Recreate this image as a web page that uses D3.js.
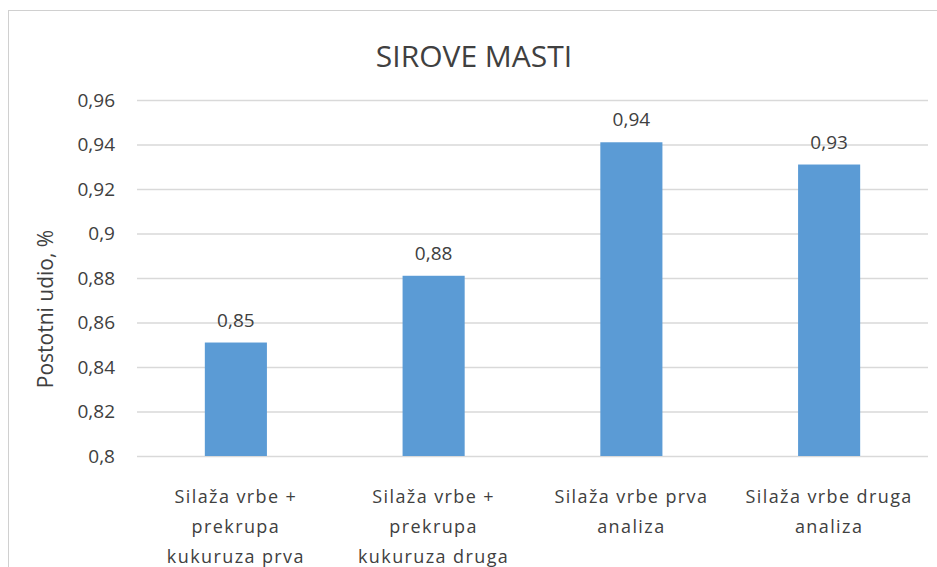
<!DOCTYPE html>
<html>
<head>
<meta charset="utf-8">
<script src="https://cdn.jsdelivr.net/npm/d3@7"></script>
<style>
  body { margin: 0; background: #fff; }
  text { font-family: "Open Sans", sans-serif; fill: #404040; }
</style>
</head>
<body>
<svg></svg>
<script>
var categories = [
  "Silaža vrbe + prekrupa kukuruza prva analiza",
  "Silaža vrbe + prekrupa kukuruza druga analiza",
  "Silaža vrbe prva analiza",
  "Silaža vrbe druga analiza"
];
var values = [0.851, 0.881, 0.941, 0.931];
var yTicks = [0.8, 0.82, 0.84, 0.86, 0.88, 0.9, 0.92, 0.94, 0.96];

var W = 937, H = 567;
var plotLeft = 137, plotRight = 928, plotTop = 100, plotBottom = 456;

var svg = d3.select("svg")
    .attr("width", W)
    .attr("height", H);

// okvir grafa
svg.append("rect")
    .attr("x", 8.5).attr("y", 10.5)
    .attr("width", 940).attr("height", 580)
    .attr("fill", "none")
    .attr("stroke", "#d0d0d0");

svg.append("text")
    .attr("x", 474).attr("y", 67)
    .attr("text-anchor", "middle")
    .style("font-size", "30px")
    .text("SIROVE MASTI");

var x = d3.scaleBand().domain(categories).range([plotLeft, plotRight]).padding(0);
var y = d3.scaleLinear().domain([0.8, 0.96]).range([plotBottom, plotTop]);

var fmt = function(d) { return String(+d.toFixed(2)).replace(".", ","); };

// y os s mrežom
var gy = svg.append("g")
    .attr("transform", "translate(" + plotLeft + ",0)")
    .call(d3.axisLeft(y).tickValues(yTicks).tickSize(-(plotRight - plotLeft)).tickPadding(22).tickFormat(fmt));
gy.select(".domain").remove();
gy.selectAll(".tick line").attr("stroke", "#d9d9d9").attr("stroke-width", 1.5);
gy.selectAll(".tick text").style("font-size", "19px").attr("fill", "#404040");

svg.append("text")
    .attr("transform", "translate(53,309) rotate(-90)")
    .attr("text-anchor", "middle")
    .style("font-size", "21px")
    .text("Postotni udio, %");

var barW = x.bandwidth() * 0.314;

svg.selectAll("rect.bar")
    .data(values)
    .enter().append("rect")
    .attr("class", "bar")
    .attr("fill", "#5b9bd5")
    .attr("x", function(d, i) { return x(categories[i]) + x.bandwidth() / 2 - barW / 2; })
    .attr("y", function(d) { return y(d); })
    .attr("width", barW)
    .attr("height", function(d) { return plotBottom - y(d); });

svg.selectAll("text.val")
    .data(values)
    .enter().append("text")
    .attr("class", "val")
    .attr("text-anchor", "middle")
    .attr("x", function(d, i) { return x(categories[i]) + x.bandwidth() / 2; })
    .attr("y", function(d) { return y(d) - 16; })
    .style("font-size", "19px")
    .text(function(d) { return fmt(d); });

// x os (bez linije), nazivi kategorija u više redova
var gx = svg.append("g")
    .attr("transform", "translate(0," + plotBottom + ")")
    .call(d3.axisBottom(x).tickSize(0).tickPadding(0));
gx.select(".domain").remove();
gx.selectAll(".tick text")
    .style("font-size", "18px")
    .style("letter-spacing", "1.4px")
    .attr("fill", "#404040")
    .attr("dy", null)
    .call(wrap, 178);

function wrap(sel, width) {
  sel.each(function() {
    var t = d3.select(this);
    var words = t.text().split(/\s+/);
    t.text(null);
    var line = [], lineNo = 0;
    var ts = t.append("tspan").attr("x", 0).attr("y", 47);
    words.forEach(function(w) {
      line.push(w);
      ts.text(line.join(" "));
      if (ts.node().getComputedTextLength() > width && line.length > 1) {
        line.pop();
        ts.text(line.join(" "));
        line = [w];
        lineNo++;
        ts = t.append("tspan").attr("x", 0).attr("y", 47 + lineNo * 30).text(w);
      }
    });
  });
}
</script>
</body>
</html>
